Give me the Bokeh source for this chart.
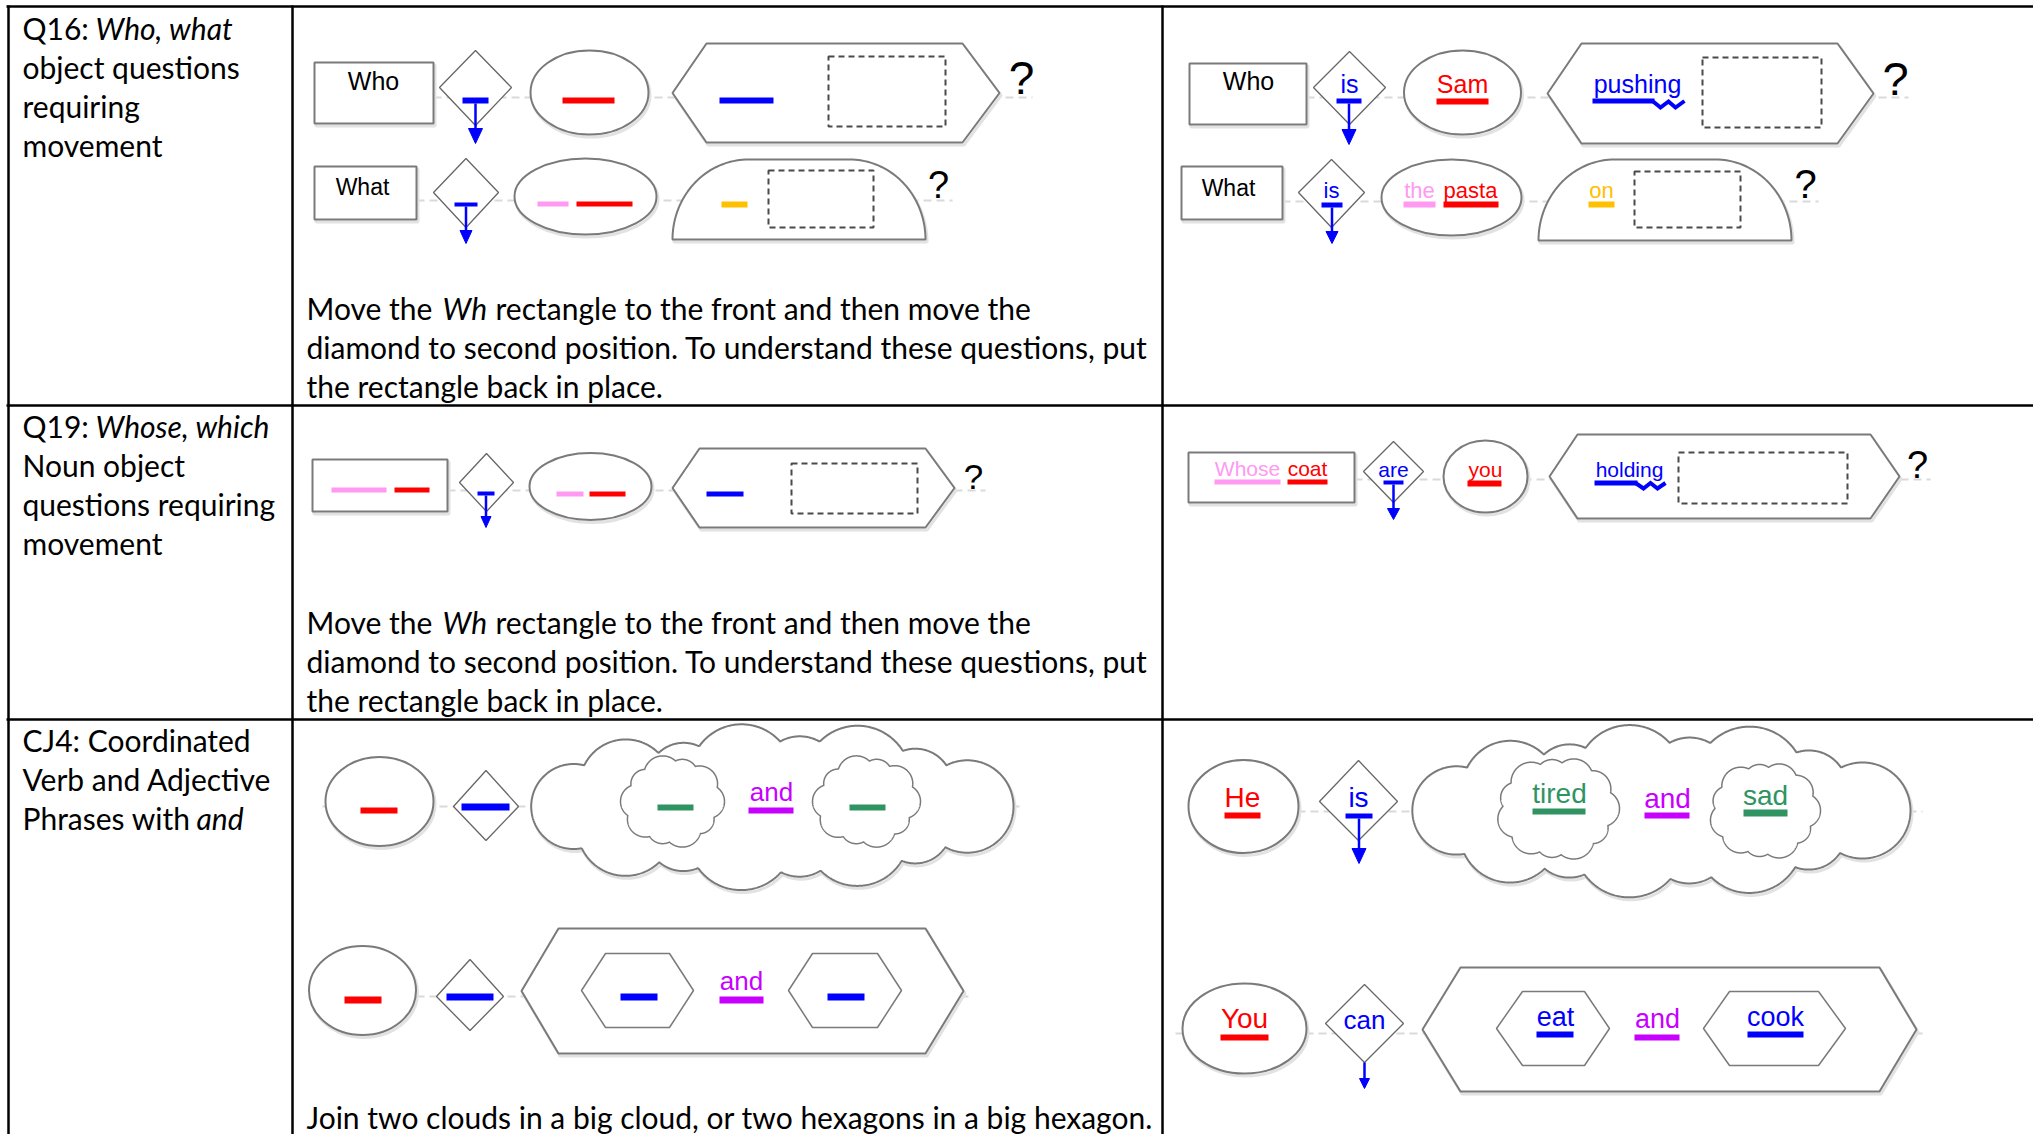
import numpy as np
from bokeh.plotting import figure
from bokeh.models import Range1d
from bokeh.core.properties import value
from bokeh.embed import file_html
from bokeh.resources import INLINE

# ---------------- data: texts ----------------
Q16_LABEL = ["Q16: ", "Who, what", "object questions", "requiring", "movement"]
Q19_LABEL = ["Q19: ", "Whose, which", "Noun object", "questions requiring", "movement"]
CJ4_LABEL = ["CJ4: Coordinated", "Verb and Adjective", "Phrases with ", "and"]
WH_INSTRUCTION = ["Move the ", "Wh", "rectangle to the front and then move the",
                  "diamond to second position. To understand these questions, put",
                  "the rectangle back in place."]
CJ_INSTRUCTION = ["Join two clouds in a big cloud, or two hexagons in a big hexagon."]

WHO_WORDS = ["Who", "is", "Sam", "pushing"]
WHAT_WORDS = ["What", "is", "the", "pasta", "on"]
WHOSE_WORDS = ["Whose", "coat", "are", "you", "holding"]
CLOUD_WORDS = ["He", "is", "tired", "and", "sad"]
HEX_WORDS = ["You", "can", "eat", "and", "cook"]
QMARK = "?"

RED = "#ff0000"
BLUE = "#0000ff"
PINK = "#ff99f2"
YELLOW = "#ffc000"
GREEN = "#2f9462"
PURPLE = "#c800ff"
OUTLINE = "#7a7a7a"

BODY_FONT = "Lato"
BODY_SIZE = "30px"
DIA_FONT = "Liberation Sans"
BASELINE_FIX = 0.33

W, H = 2033, 1134
p = figure(width=W, height=H, x_range=Range1d(0, W), y_range=Range1d(H, 0),
           x_axis_type=None, y_axis_type=None, toolbar_location=None,
           output_backend="svg", min_border=0, outline_line_color=None)
p.grid.visible = False
p.background_fill_color = "white"
p.border_fill_color = "white"

texts = []
bars = []
polys = []
ellipses = []
dashed_rects = []
centerlines = []
arrows_stem = []
arrow_heads = []
zigzags = []


def T(x, y, s, size, color="black", font=DIA_FONT, style="normal", align="center"):
    texts.append((x, y, s, size, color, font, style, align))


def rect(l, r, t, b, lc=OUTLINE, lw=2):
    polys.append(([l, r, r, l], [t, t, b, b], lc, lw))


def diamond(l, r, t, b, m):
    cx = (l + r) / 2
    polys.append(([cx, r, cx, l], [t, m, b, m], "#666666", 1.3))


def hexagon(l, r, t, b, il, ir=None, lc=OUTLINE, lw=2):
    ir = il if ir is None else ir
    m = (t + b) / 2
    polys.append(([l, l + il, r - ir, r, r - ir, l + il], [m, t, t, m, b, b], lc, lw))


def dome(l, r, t, b, cr):
    h = b - t
    th1 = np.linspace(np.pi, np.pi / 2, 40)
    th2 = np.linspace(np.pi / 2, 0, 40)
    xs = list(l + cr + cr * np.cos(th1)) + list(r - cr + cr * np.cos(th2))
    ys = list(b - h * np.sin(th1)) + list(b - h * np.sin(th2))
    polys.append((xs, ys, OUTLINE, 2))


def cloud(cx, cy, rx, ry, n, frac, pattern, lw=2):
    r0 = frac * ry
    a, b = rx - r0, ry - r0
    t = np.linspace(0, 2 * np.pi, 4001)
    ex, ey = a * np.cos(t), b * np.sin(t)
    s = np.concatenate([[0], np.cumsum(np.hypot(np.diff(ex), np.diff(ey)))])
    targets = np.linspace(0, s[-1], n, endpoint=False)
    idx = np.clip(np.searchsorted(s, targets), 0, len(t) - 1)
    C = np.array([[ex[i], ey[i]] for i in idx])
    R = np.array([r0 * pattern[k % len(pattern)] for k in range(n)])
    xs, ys = [], []
    ang = np.linspace(-np.pi, np.pi, 361)
    for i in range(n):
        ti = t[idx[i]]
        nang = np.arctan2(np.sin(ti) / b, np.cos(ti) / a)
        px = C[i, 0] + R[i] * np.cos(nang + ang)
        py = C[i, 1] + R[i] * np.sin(nang + ang)
        keep = (px / a) ** 2 + (py / b) ** 2 > 1
        for j in range(n):
            if j != i:
                keep &= np.hypot(px - C[j, 0], py - C[j, 1]) > R[j]
        xs.extend(px[keep])
        ys.extend(py[keep])
    polys.append((list(cx + np.array(xs)), list(cy + np.array(ys)), OUTLINE, lw))


def t_arrow(cx, bt, bb, hw, head_top, tip, hh, bar=True):
    if bar:
        bars.append((cx - hw, cx + hw, bt, bb, BLUE))
    arrows_stem.append((cx, bb, cx, head_top))
    arrow_heads.append(([cx - hh, cx + hh, cx], [head_top, head_top, tip]))


def ubar(l, r, t, b, c):
    bars.append((l, r, t, b, c))


# ---------------- table ----------------
H_LINES = [6, 405, 719]
V_LINES = [8, 292, 1162]
p.segment(x0=[6] * 3, y0=H_LINES, x1=[W] * 3, y1=H_LINES, line_color="black", line_width=2.5)
p.segment(x0=V_LINES, y0=[5] * 3, x1=V_LINES, y1=[H] * 3, line_color="black", line_width=2.5)

# ---------------- column 1 labels ----------------
T(22, 37, Q16_LABEL[0], BODY_SIZE, font=BODY_FONT, align="left")
T(95, 37, Q16_LABEL[1], BODY_SIZE, font=BODY_FONT, style="italic", align="left")
for k, yy in enumerate([76, 115, 154]):
    T(22, yy, Q16_LABEL[2 + k], BODY_SIZE, font=BODY_FONT, align="left")
T(22, 435, Q19_LABEL[0], BODY_SIZE, font=BODY_FONT, align="left")
T(95, 435, Q19_LABEL[1], BODY_SIZE, font=BODY_FONT, style="italic", align="left")
for k, yy in enumerate([474, 513, 552]):
    T(22, yy, Q19_LABEL[2 + k], BODY_SIZE, font=BODY_FONT, align="left")
T(22, 749, CJ4_LABEL[0], BODY_SIZE, font=BODY_FONT, align="left")
T(22, 788, CJ4_LABEL[1], BODY_SIZE, font=BODY_FONT, align="left")
T(22, 827, CJ4_LABEL[2], BODY_SIZE, font=BODY_FONT, align="left")
T(196, 827, CJ4_LABEL[3], BODY_SIZE, font=BODY_FONT, style="italic", align="left")

for base in (317, 631):
    T(306, base, WH_INSTRUCTION[0], BODY_SIZE, font=BODY_FONT, align="left")
    T(442, base, WH_INSTRUCTION[1], BODY_SIZE, font=BODY_FONT, style="italic", align="left")
    T(495, base, WH_INSTRUCTION[2], BODY_SIZE, font=BODY_FONT, align="left")
    T(306, base + 39, WH_INSTRUCTION[3], BODY_SIZE, font=BODY_FONT, align="left")
    T(306, base + 78, WH_INSTRUCTION[4], BODY_SIZE, font=BODY_FONT, align="left")
T(306, 1126, CJ_INSTRUCTION[0], BODY_SIZE, font=BODY_FONT, align="left")

# ---------------- centre lines ----------------
centerlines += [(433, 1032, 97), (416, 952, 200), (1306, 1908, 97), (1282, 1818, 201),
                (447, 985, 490), (1354, 1930, 479), (322, 1024, 806), (416, 968, 996),
                (1297, 1922, 811), (1175, 1922, 1033)]

# ---------------- Row 1, column 2 (templates) ----------------
rect(314, 433, 62, 123)
T(373, 89, WHO_WORDS[0], "25px")
diamond(439, 511, 50, 125, 87)
t_arrow(475, 97, 103, 13, 128, 143, 7)
ellipses.append((589, 92, 118, 84))
ubar(562, 614, 97, 103, RED)
hexagon(672, 999, 43, 142, 34, 37)
ubar(719, 773, 97, 103, BLUE)
dashed_rects.append((828, 945, 56, 126))
T(1021, 93, QMARK, "46px")

rect(314, 416, 166, 219)
T(362, 194, WHAT_WORDS[0], "23px")
diamond(433, 498, 158, 227, 192)
t_arrow(465.5, 202, 206, 11.5, 230, 243, 6)
ellipses.append((585, 196, 142, 76))
ubar(537, 568, 201, 206, PINK)
ubar(576, 632, 201, 206, RED)
dome(672, 925, 159, 239, 76)
ubar(721, 747, 201, 207, YELLOW)
dashed_rects.append((768, 873, 170, 227))
T(938, 197, QMARK, "38px")

# ---------------- Row 1, column 3 (examples) ----------------
rect(1189, 1306, 63, 124)
T(1248, 89, WHO_WORDS[0], "25px")
diamond(1313, 1385, 51, 124, 87)
T(1349, 92, WHO_WORDS[1], "25px", BLUE)
t_arrow(1348.5, 98, 103, 12.5, 129, 144, 7)
ellipses.append((1462, 92, 117, 84))
T(1462, 92, WHO_WORDS[2], "25px", RED)
ubar(1436, 1488, 98, 104, RED)
hexagon(1547, 1873, 43, 143, 34, 36)
T(1637, 92, WHO_WORDS[3], "25px", BLUE)
ubar(1592, 1654, 98, 103, BLUE)
zigzags.append(([1652, 1660, 1668, 1675, 1684], [100.5, 107, 101, 107, 100.5]))
dashed_rects.append((1702, 1821, 57, 127))
T(1895, 94, QMARK, "47px")

rect(1181, 1282, 166, 219)
T(1228, 195, WHAT_WORDS[0], "23px")
diamond(1298, 1364, 159, 227, 192)
T(1331, 197, WHAT_WORDS[1], "22px", BLUE)
t_arrow(1331.5, 202, 207, 10.5, 231, 243, 6)
ellipses.append((1451, 197, 140, 76))
T(1419, 197, WHAT_WORDS[2], "22px", PINK)
T(1470, 197, WHAT_WORDS[3], "22px", RED)
ubar(1403, 1435, 201, 207, PINK)
ubar(1443, 1498, 201, 207, RED)
dome(1538, 1791, 159, 240, 76)
T(1601, 197, WHAT_WORDS[4], "22px", YELLOW)
ubar(1588, 1614, 201, 207, YELLOW)
dashed_rects.append((1634, 1740, 171, 227))
T(1805, 197, QMARK, "40px")

# ---------------- Row 2 ----------------
rect(312, 447, 459, 511)
ubar(331, 386, 487, 492, PINK)
ubar(394, 429, 487, 492, RED)
diamond(459, 513, 453, 511, 482)
t_arrow(485.5, 491, 495, 8.5, 516, 527, 5)
ellipses.append((590, 486, 122, 67))
ubar(556, 583, 491, 496, PINK)
ubar(589, 625, 491, 496, RED)
hexagon(672, 954, 448, 527, 27, 29)
ubar(706, 743, 491, 496, BLUE)
dashed_rects.append((791, 917, 463, 513))
T(973, 488, QMARK, "35px")

rect(1188, 1354, 452, 502)
T(1247, 475, WHOSE_WORDS[0], "21px", PINK)
T(1307, 475, WHOSE_WORDS[1], "21px", RED)
ubar(1214, 1280, 479, 484, PINK)
ubar(1287, 1327, 479, 484, RED)
diamond(1363, 1423, 441, 502, 471)
T(1393, 476, WHOSE_WORDS[2], "21px", BLUE)
t_arrow(1393, 480, 484, 10, 508, 519, 6)
ellipses.append((1485, 476, 84, 72))
T(1485, 476, WHOSE_WORDS[3], "21px", RED)
ubar(1467, 1501, 480, 486, RED)
hexagon(1549, 1899, 434, 518, 28, 29)
T(1629, 476, WHOSE_WORDS[4], "21px", BLUE)
ubar(1594, 1637, 480, 485, BLUE)
zigzags.append(([1635, 1643, 1650, 1657, 1665], [482.5, 488, 482.5, 488, 482.5]))
dashed_rects.append((1678, 1847, 452, 503))
T(1917, 477, QMARK, "38px")

# ---------------- Row 3, column 2 ----------------
BIG_PAT = [1.0, 0.78, 1.12, 0.86, 1.15, 0.8, 1.05, 0.92]
SMALL_PAT = [1.0, 0.85, 1.1, 0.9, 1.05]

ellipses.append((379, 801, 108, 89))
ubar(360, 397, 807, 813, RED)
diamond(453, 518, 770, 840, 806)
ubar(461, 509, 803, 810, BLUE)
cloud(770, 806, 243, 77, 14, 0.6, BIG_PAT)
cloud(672, 801, 52, 45, 10, 0.38, SMALL_PAT, 1.5)
cloud(866, 801, 54, 45, 10, 0.38, SMALL_PAT, 1.5)
ubar(657, 693, 804, 810, GREEN)
ubar(849, 885, 804, 810, GREEN)
T(771, 800, CLOUD_WORDS[3], "26px", PURPLE)
ubar(748, 793, 807, 813, PURPLE)

ellipses.append((362, 990, 107, 89))
ubar(344, 381, 996, 1003, RED)
diamond(436, 503, 959, 1030, 996)
ubar(446, 493, 993, 1000, BLUE)
hexagon(521, 963, 928, 1053, 37, 38)
hexagon(581, 693, 953, 1027, 24, 24, lw=1.5)
hexagon(788, 901, 953, 1027, 24, 24, lw=1.5)
ubar(620, 657, 993, 1000, BLUE)
ubar(827, 864, 993, 1000, BLUE)
T(741, 989, HEX_WORDS[3], "26px", PURPLE)
ubar(719, 763, 996, 1003, PURPLE)

# ---------------- Row 3, column 3 ----------------
ellipses.append((1243, 806, 110, 93))
T(1242, 806, CLOUD_WORDS[0], "28px", RED)
ubar(1224, 1260, 812, 818, RED)
diamond(1319, 1397, 760, 840, 801)
T(1358, 806, CLOUD_WORDS[1], "28px", BLUE)
t_arrow(1358.5, 813, 818, 13.5, 848, 863, 7)
cloud(1659, 810, 251, 80, 14, 0.6, BIG_PAT)
cloud(1557, 808, 62, 51, 11, 0.36, SMALL_PAT, 1.5)
cloud(1764, 810, 56, 48, 11, 0.36, SMALL_PAT, 1.5)
T(1559, 802, CLOUD_WORDS[2], "28px", GREEN)
ubar(1532, 1585, 808, 814, GREEN)
T(1667, 807, CLOUD_WORDS[3], "28px", PURPLE)
ubar(1644, 1689, 812, 818, PURPLE)
T(1765, 804, CLOUD_WORDS[4], "28px", GREEN)
ubar(1743, 1787, 809, 816, GREEN)

ellipses.append((1244, 1028, 124, 90))
T(1244, 1027, HEX_WORDS[0], "28px", RED)
ubar(1220, 1268, 1034, 1040, RED)
diamond(1325, 1403, 984, 1062, 1023)
T(1364, 1028, HEX_WORDS[1], "26px", BLUE)
t_arrow(1364, 1062, 1062, 0, 1078, 1088, 5, bar=False)
hexagon(1422, 1916, 967, 1091, 38, 37)
hexagon(1496, 1609, 991, 1065, 26, 25, lw=1.5)
hexagon(1703, 1845, 991, 1065, 26, 27, lw=1.5)
T(1555, 1025, HEX_WORDS[2], "27px", BLUE)
ubar(1536, 1573, 1031, 1037, BLUE)
T(1657, 1027, HEX_WORDS[3], "27px", PURPLE)
ubar(1634, 1679, 1034, 1040, PURPLE)
T(1775, 1025, HEX_WORDS[4], "27px", BLUE)
ubar(1747, 1803, 1031, 1037, BLUE)

# ---------------- draw ----------------
cl = np.array(centerlines, dtype=float)
p.segment(x0=cl[:, 0], y0=cl[:, 2], x1=cl[:, 1], y1=cl[:, 2],
          line_color="#d9d9d9", line_width=2, line_dash="8 5")

sh_xs = [[x + 1.5 for x in pl[0]] for pl in polys if pl[2] == OUTLINE]
sh_ys = [[y + 2.5 for y in pl[1]] for pl in polys if pl[2] == OUTLINE]
p.patches(xs=sh_xs, ys=sh_ys, fill_color=None, line_color="#e2e2e2", line_width=3)
el = np.array(ellipses, dtype=float)
p.ellipse(x=el[:, 0] + 1.5, y=el[:, 1] + 2.5, width=el[:, 2], height=el[:, 3],
          fill_color=None, line_color="#e2e2e2", line_width=3)

p.ellipse(x=el[:, 0], y=el[:, 1], width=el[:, 2], height=el[:, 3],
          fill_color="white", line_color=OUTLINE, line_width=2)
for xs, ys, lc, lw in polys:
    p.patch(xs, ys, fill_color="white", line_color=lc, line_width=lw)

dr = np.array(dashed_rects, dtype=float)
p.quad(left=dr[:, 0], right=dr[:, 1], top=dr[:, 2], bottom=dr[:, 3],
       fill_color=None, line_color="#4a4a4a", line_width=2, line_dash="6 4")

st = np.array(arrows_stem, dtype=float)
p.segment(x0=st[:, 0], y0=st[:, 1], x1=st[:, 2], y1=st[:, 3], line_color=BLUE, line_width=2.5)
p.patches(xs=[a[0] for a in arrow_heads], ys=[a[1] for a in arrow_heads],
          fill_color=BLUE, line_color=BLUE, line_width=1)

p.quad(left=[b[0] for b in bars], right=[b[1] for b in bars], top=[b[2] for b in bars],
       bottom=[b[3] for b in bars], fill_color=[b[4] for b in bars], line_color=None)
p.multi_line(xs=[z[0] for z in zigzags], ys=[z[1] for z in zigzags], line_color=BLUE,
             line_width=4, line_join="miter")

for x, y, s, size, color, font, style, align in texts:
    px = float(size.replace("px", ""))
    p.text(x=[x], y=[y - BASELINE_FIX * px], text=[s], text_font=value(font),
           text_font_size=size, text_color=color, text_font_style=style,
           text_align=align, text_baseline="alphabetic")

open("out.html", "w").write(file_html(p, INLINE))
